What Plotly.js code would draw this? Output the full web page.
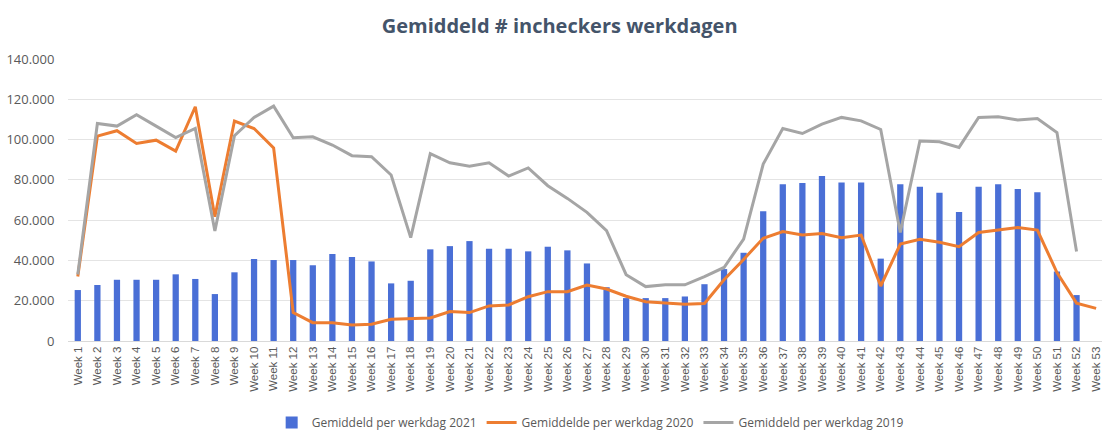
<!DOCTYPE html>
<html>
<head>
<meta charset="utf-8">
<script src="https://cdn.plot.ly/plotly-3.0.1.min.js"></script>
<style>html,body{margin:0;padding:0;background:#fff;}#chart{width:1106px;height:432px;}</style>
</head>
<body>
<div id="chart"></div>
<script>
var weeks = [];
for (var i = 1; i <= 53; i++) weeks.push('Week ' + i);

var values2021 = [25300, 27800, 30400, 30400, 30400, 33100, 30800, 23300, 34100, 40700,
  40200, 40200, 37600, 43200, 41700, 39500, 28600, 29900, 45500, 47100,
  49600, 45800, 45800, 44500, 46800, 45000, 38500, 26700, 21300, 21300,
  21300, 22100, 28200, 35700, 43800, 64400, 77800, 78400, 81900, 78700,
  78700, 40900, 77800, 76600, 73600, 64000, 76600, 77800, 75400, 73900,
  34500, 22800, null];

var values2020 = [32000, 101700, 104400, 98100, 99700, 94300, 116300, 61700, 109200, 105500,
  95900, 14100, 9100, 9100, 7900, 8300, 10800, 11100, 11400, 14600,
  14100, 17400, 17900, 22000, 24500, 24500, 27800, 25800, 22200, 19500,
  19000, 18200, 18600, 30400, 40500, 51000, 54300, 52600, 53400, 51300,
  52600, 27300, 48100, 50500, 49000, 46800, 53900, 55100, 56400, 55100,
  34000, 18800, 16200];

var values2019 = [33000, 108000, 106700, 112300, 106700, 101000, 105500, 54600, 101900, 111000,
  116600, 100900, 101400, 97300, 92000, 91500, 82400, 51300, 93000, 88500,
  86800, 88500, 81900, 85900, 77100, 70800, 63900, 54800, 32900, 27000,
  27900, 27900, 32000, 36500, 50600, 87800, 105500, 103000, 107700, 111000,
  109300, 105000, 53900, 99300, 98900, 96100, 111000, 111300, 109700, 110500,
  103500, 44400, null];

var names = ['Gemiddeld per werkdag 2021', 'Gemiddelde per werkdag 2020', 'Gemiddeld per werkdag 2019'];

var data = [
  {type: 'bar', x: weeks, y: values2021, name: names[0],
   marker: {color: '#4a6fd6'}},
  {type: 'scatter', mode: 'lines', x: weeks, y: values2020, name: names[1],
   line: {color: '#ed7d31', width: 3}},
  {type: 'scatter', mode: 'lines', x: weeks, y: values2019, name: names[2],
   line: {color: '#a5a5a5', width: 3}}
];

var layout = {
  width: 1106, height: 432,
  paper_bgcolor: '#ffffff', plot_bgcolor: '#ffffff',
  separators: ',.',
  font: {family: 'Open Sans, sans-serif', color: '#595959', size: 12},
  margin: {l: 68, r: 4, t: 59, b: 91},
  bargap: 0.68,
  title: {text: '<b>Gemiddeld # incheckers werkdagen</b>',
    font: {family: 'Open Sans, sans-serif', size: 20, color: '#44546a'},
    x: 0.506, xanchor: 'center', y: 0.94, yanchor: 'middle'},
  xaxis: {type: 'category', range: [-0.5, 52.3], tickangle: -90,
    showgrid: false, showline: true, linecolor: '#d9d9d9', linewidth: 1,
    ticks: '', tickfont: {family: 'Liberation Sans, Arial, sans-serif', size: 11.5, color: '#595959'},
    automargin: false},
  yaxis: {range: [0, 140000], dtick: 20000, tickformat: ',d',
    showgrid: true, gridcolor: '#e4e4e4', gridwidth: 1, zeroline: false,
    ticks: 'outside', ticklen: 10, tickcolor: 'rgba(0,0,0,0)',
    tickfont: {size: 13, color: '#595959'}, automargin: false},
  showlegend: true,
  legend: {orientation: 'h', x: 0.505, xanchor: 'center', yref: 'container', y: 0.022, yanchor: 'middle',
    font: {size: 12, color: '#595959'}, traceorder: 'normal', itemwidth: 30,
    bgcolor: 'rgba(0,0,0,0)'}
};

Plotly.newPlot('chart', data, layout, {displayModeBar: false, staticPlot: true});
</script>
</body>
</html>
